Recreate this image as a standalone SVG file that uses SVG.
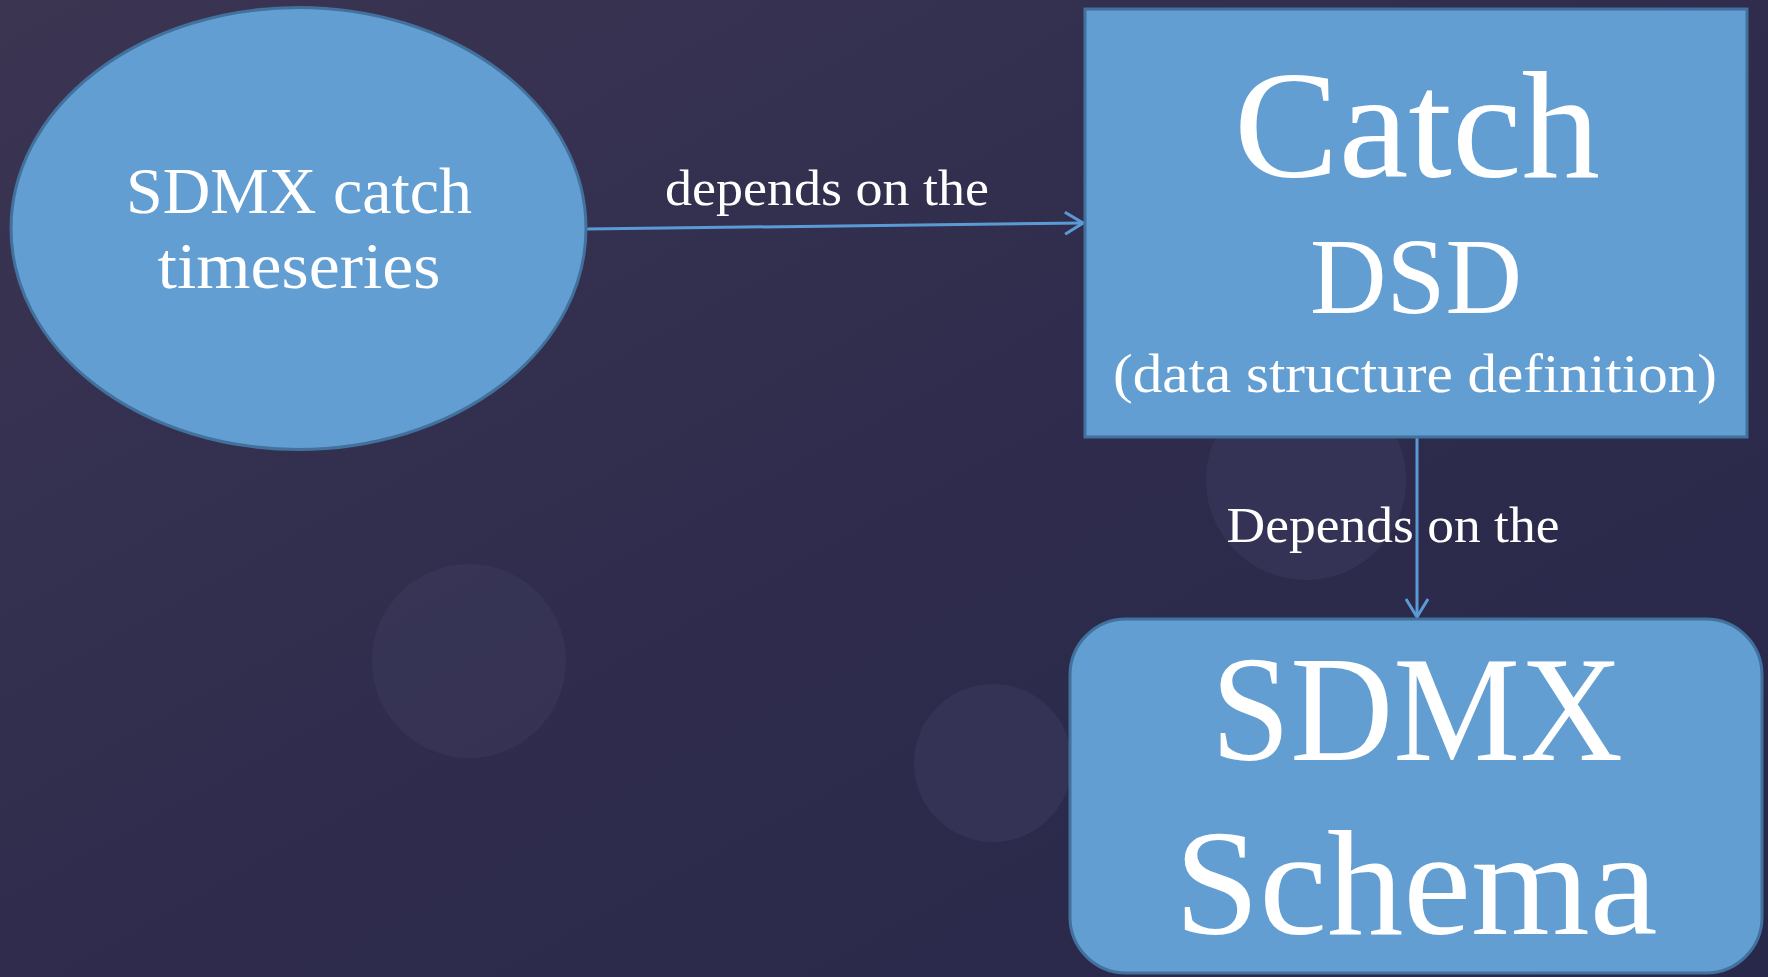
<svg xmlns="http://www.w3.org/2000/svg" width="1768" height="977" viewBox="0 0 1768 977">
  <defs>
    <linearGradient id="bg" x1="0" y1="0" x2="1" y2="1">
      <stop offset="0" stop-color="#3b3552"/>
      <stop offset="0.5" stop-color="#2f2c4d"/>
      <stop offset="1" stop-color="#28284a"/>
    </linearGradient>
    <marker id="arrow" viewBox="0 0 20 24" refX="19" refY="12" markerWidth="20" markerHeight="24" markerUnits="userSpaceOnUse" orient="auto">
      <path d="M1,1 L19,12 L1,23" fill="none" stroke="#5b9bd5" stroke-width="3"/>
    </marker>
    <style>
      .node { fill: #629ed1; stroke: #41719c; stroke-width: 3; }
      .label { fill: #ffffff; font-family: "Liberation Serif", "DejaVu Serif", serif; text-anchor: middle; }
      .edge { stroke: #5b9bd5; stroke-width: 3; fill: none; }
      .bokeh { fill: #3d3a5c; opacity: 0.55; }
    </style>
  </defs>

  <rect x="0" y="0" width="1768" height="977" fill="url(#bg)"/>
  <g id="background">
    <circle class="bokeh" cx="469" cy="661" r="97"/>
    <circle class="bokeh" cx="993" cy="763" r="79"/>
    <circle class="bokeh" cx="1306" cy="480" r="100"/>
  </g>

  <g id="connectors">
    <line class="edge" x1="586" y1="229" x2="1083" y2="223" marker-end="url(#arrow)"/>
    <line class="edge" x1="1417" y1="437" x2="1417" y2="617" marker-end="url(#arrow)"/>
    <text class="label" x="827" y="205" font-size="50" textLength="324" lengthAdjust="spacingAndGlyphs">depends on the</text>
    <text class="label" x="1393" y="542" font-size="50" textLength="333" lengthAdjust="spacingAndGlyphs">Depends on the</text>
  </g>

  <g id="node-timeseries">
    <ellipse class="node" cx="298.5" cy="228.5" rx="287.5" ry="221"/>
    <text class="label" x="299" y="213" font-size="66" textLength="346" lengthAdjust="spacingAndGlyphs">SDMX catch</text>
    <text class="label" x="299" y="288" font-size="66" textLength="283" lengthAdjust="spacingAndGlyphs">timeseries</text>
  </g>

  <g id="node-dsd">
    <rect class="node" x="1085" y="9" width="662" height="428"/>
    <text class="label" x="1417" y="177" font-size="152" textLength="366" lengthAdjust="spacingAndGlyphs">Catch</text>
    <text class="label" x="1416" y="313" font-size="108" textLength="212" lengthAdjust="spacingAndGlyphs">DSD</text>
    <text class="label" x="1415" y="392" font-size="54" textLength="604" lengthAdjust="spacingAndGlyphs">(data structure definition)</text>
  </g>

  <g id="node-schema">
    <rect class="node" x="1070" y="619" width="692" height="354" rx="56" ry="56"/>
    <text class="label" x="1417" y="760" font-size="150" textLength="412" lengthAdjust="spacingAndGlyphs">SDMX</text>
    <text class="label" x="1416" y="934" font-size="150" textLength="483" lengthAdjust="spacingAndGlyphs">Schema</text>
  </g>
</svg>
